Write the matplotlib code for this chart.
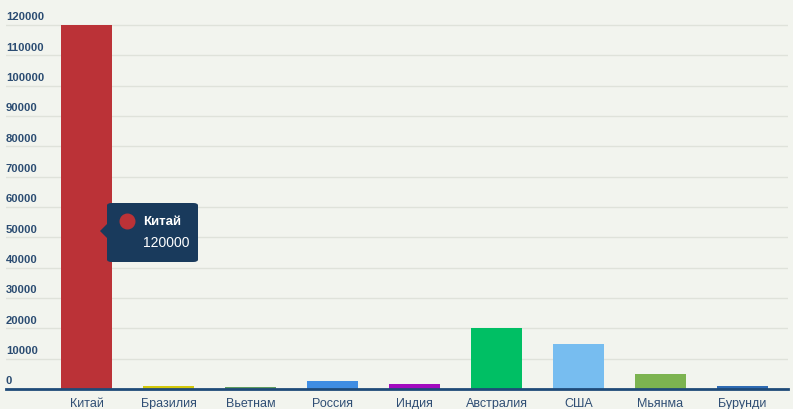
import matplotlib
matplotlib.use("Agg")
from matplotlib import pyplot as plt
from matplotlib.patches import FancyBboxPatch, Polygon
from matplotlib.lines import Line2D

# data
countries = ["Китай", "Бразилия", "Вьетнам", "Россия", "Индия",
             "Австралия", "США", "Мьянма", "Бурунди"]
values = [120000, 1000, 500, 2700, 1700, 20000, 14800, 5000, 1000]
colors = ["#bb3237", "#d3c80a", "#5e9b5e", "#3f8de3", "#a30bbf",
          "#00bf64", "#77bdf0", "#7cb350", "#2f6bb3"]
yticks = [0, 10000, 20000, 30000, 40000, 50000, 60000,
          70000, 80000, 90000, 100000, 110000, 120000]
tip_name = "Китай"
tip_value = "120000"

W, H = 793, 410
bg = "#f2f4ee"
plt.rcParams['font.family'] = ['Liberation Sans', 'DejaVu Sans']

fig = plt.figure(figsize=(W / 100, H / 100), dpi=100, facecolor=bg)
left, right, bottom = 6, 788, 20
ymax = 125000
ax_h = 379.2 * ymax / 125000
ax = fig.add_axes([left / W, bottom / H, (right - left) / W, ax_h / H])
ax.set_facecolor(bg)

x = list(range(len(countries)))
ax.bar(x, values, width=51 / 82, color=colors, zorder=2)

# x range so category 0 sits at pixel 86.5, spacing 82 px
ax.set_xlim((left - 86.5) / 82, (right - 86.5) / 82)
ax.set_ylim(0, ymax)

for s in ["top", "right", "left"]:
    ax.spines[s].set_visible(False)
ax.spines["bottom"].set_color("#1f4a78")
ax.spines["bottom"].set_linewidth(2)
ax.spines["bottom"].set_zorder(3)

ax.set_yticks(yticks)
ax.set_yticklabels([])
ax.tick_params(axis="y", length=0)
ax.grid(axis="y", color="#dfe2da", linewidth=1, zorder=0)
for t in yticks:
    ax.text(0.0, t + 1200, str(t), transform=ax.get_yaxis_transform(),
            ha="left", va="bottom", fontsize=8.1, fontweight="bold",
            color="#2b4c72", zorder=4)

ax.set_xticks(x)
ax.set_xticklabels(countries, fontsize=9, color="#2f4e74")
ax.tick_params(axis="x", length=0, pad=6)

# tooltip over the first bar
bx, by, bw, bh = 107, 204, 91, 59
box = FancyBboxPatch((bx / W, 1 - (by + bh) / H), bw / W, bh / H,
                     boxstyle="round,pad=0,rounding_size=0.006",
                     transform=fig.transFigure, facecolor="#193a5c",
                     edgecolor="none", zorder=10)
fig.patches.append(box)
tri = Polygon([(bx / W, 1 - 225 / H), (100 / W, 1 - 232 / H), (bx / W, 1 - 239 / H)],
              closed=True, transform=fig.transFigure, facecolor="#193a5c",
              edgecolor="none", zorder=10)
fig.patches.append(tri)
fig.add_artist(Line2D([126.5 / W], [1 - 222 / H], transform=fig.transFigure,
                      marker="o", markersize=10.5, color="#bb3237",
                      linestyle="none", zorder=11))
fig.text(143 / W, 1 - 222 / H, tip_name, ha="left", va="center", fontsize=9.5,
         fontweight="bold", color="white", zorder=12)
fig.text(143 / W, 1 - 243 / H, tip_value, ha="left", va="center", fontsize=10,
         color="white", zorder=12)

fig.savefig("out.png", dpi=100, facecolor=bg)
